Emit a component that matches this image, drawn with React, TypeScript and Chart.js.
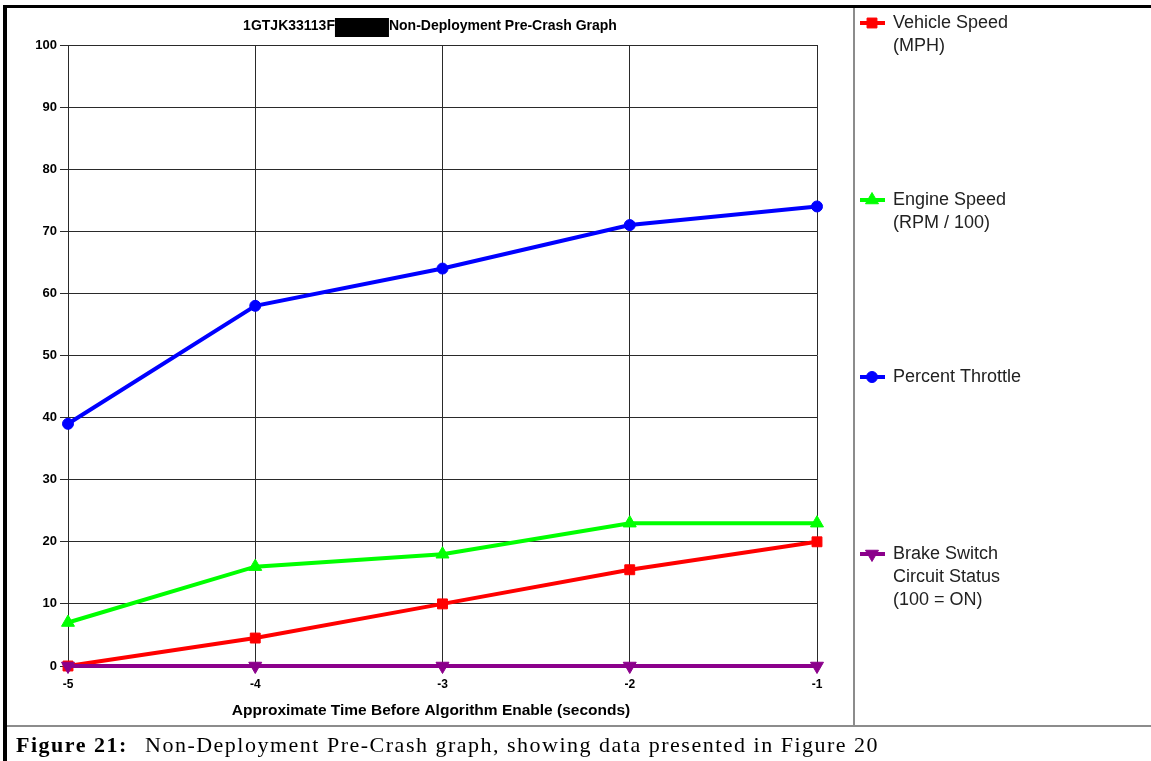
import React, { useEffect, useRef } from "react";
import { Chart, registerables } from "chart.js";

Chart.register(...registerables);

// ---- data ----
const timeValues = [-5, -4, -3, -2, -1];
const vehicleSpeed = [0, 4.5, 10, 15.5, 20];
const engineSpeed = [7, 16, 18, 23, 23];
const percentThrottle = [39, 58, 64, 71, 74];
const brakeStatus = [0, 0, 0, 0, 0];

const seriesNames = ["Vehicle Speed", "Engine Speed", "Percent Throttle", "Brake Switch"];
const legendLines = [
  ["Vehicle Speed", "(MPH)"],
  ["Engine Speed", "(RPM / 100)"],
  ["Percent Throttle"],
  ["Brake Switch", "Circuit Status", "(100 = ON)"],
];
const seriesColors = ["#ff0000", "#00ff00", "#0000ff", "#8b008b"];
const titleStart = "1GTJK33113F";
const titleEnd = "Non-Deployment Pre-Crash Graph";
const xAxisTitle = "Approximate Time Before Algorithm Enable (seconds)";
const captionBold = "Figure 21:";
const captionText = "Non-Deployment Pre-Crash graph, showing data presented in Figure 20";

const SANS = '"Liberation Sans", Arial, sans-serif';
const SERIF = '"Liberation Serif", "Times New Roman", serif';

type Marker = { style: string; radius: number; rotation: number };
const markers: Marker[] = [
  { style: "rect", radius: 7, rotation: 0 },
  { style: "triangle", radius: 7.5, rotation: 0 },
  { style: "circle", radius: 5.5, rotation: 0 },
  { style: "triangle", radius: 7.5, rotation: 180 },
];

function drawMarker(ctx: CanvasRenderingContext2D, m: Marker, x: number, y: number, color: string) {
  ctx.save();
  ctx.fillStyle = color;
  ctx.strokeStyle = color;
  ctx.lineWidth = 1;
  ctx.beginPath();
  if (m.style === "rect") {
    const s = Math.SQRT1_2 * m.radius;
    ctx.rect(x - s, y - s, 2 * s, 2 * s);
  } else if (m.style === "circle") {
    ctx.arc(x, y, m.radius, 0, Math.PI * 2);
  } else {
    let rad = (m.rotation * Math.PI) / 180;
    const r = m.radius;
    ctx.moveTo(x + Math.sin(rad) * r, y - Math.cos(rad) * r);
    rad += (2 * Math.PI) / 3;
    ctx.lineTo(x + Math.sin(rad) * r, y - Math.cos(rad) * r);
    rad += (2 * Math.PI) / 3;
    ctx.lineTo(x + Math.sin(rad) * r, y - Math.cos(rad) * r);
    ctx.closePath();
  }
  ctx.fill();
  ctx.stroke();
  ctx.restore();
}

const decorPlugin = {
  id: "decor",
  afterDraw(chart: any) {
    const ctx: CanvasRenderingContext2D = chart.ctx;
    ctx.save();
    // frame
    ctx.fillStyle = "#000";
    ctx.fillRect(3, 5, 4, 756);
    ctx.fillRect(3, 5, 1148, 3);
    ctx.fillStyle = "#8c8c8c";
    ctx.fillRect(853, 8, 2, 717);
    ctx.fillRect(7, 725, 1144, 2);

    // title with redaction
    ctx.fillStyle = "#000";
    ctx.font = `bold 14px ${SANS}`;
    ctx.textBaseline = "middle";
    ctx.textAlign = "left";
    const w1 = ctx.measureText(titleStart).width;
    const boxW = 54;
    const w2 = ctx.measureText(titleEnd).width;
    const tx = 430 - (w1 + boxW + w2) / 2;
    ctx.fillText(titleStart, tx, 26);
    ctx.fillRect(tx + w1, 18, boxW, 19);
    ctx.fillText(titleEnd, tx + w1 + boxW, 26);

    // x axis title
    ctx.font = `bold 15.5px ${SANS}`;
    ctx.textAlign = "center";
    ctx.fillText(xAxisTitle, 431, 711);

    // legend
    const rowY = [23, 200, 377, 554];
    ctx.font = `18px ${SANS}`;
    ctx.textAlign = "left";
    legendLines.forEach((lines, i) => {
      const y = rowY[i];
      ctx.strokeStyle = seriesColors[i];
      ctx.lineWidth = 4;
      ctx.beginPath();
      ctx.moveTo(860, y);
      ctx.lineTo(885, y);
      ctx.stroke();
      drawMarker(ctx, markers[i], 872, y, seriesColors[i]);
      ctx.fillStyle = "#222";
      lines.forEach((ln, j) => ctx.fillText(ln, 893, y + j * 23));
    });

    // caption
    ctx.fillStyle = "#000";
    ctx.textBaseline = "alphabetic";
    (ctx as any).letterSpacing = "1.5px";
    ctx.font = `bold 22px ${SERIF}`;
    ctx.fillText(captionBold, 16, 752);
    ctx.font = `22px ${SERIF}`;
    ctx.fillText(captionText, 145, 752);
    ctx.restore();
  },
};

export default function App() {
  const ref = useRef<HTMLCanvasElement>(null);
  useEffect(() => {
    if (!ref.current) return;
    const dataArrays = [vehicleSpeed, engineSpeed, percentThrottle, brakeStatus];
    const chart = new Chart(ref.current, {
      type: "line",
      data: {
        datasets: dataArrays.map((arr, i) => ({
          label: seriesNames[i],
          data: arr.map((v, k) => ({ x: timeValues[k], y: v })),
          borderColor: seriesColors[i],
          backgroundColor: seriesColors[i],
          borderWidth: 4,
          pointStyle: markers[i].style as any,
          pointRadius: markers[i].radius,
          pointRotation: markers[i].rotation,
          pointBorderWidth: 1,
          tension: 0,
          fill: false,
          clip: false as any,
          order: 3 - i,
        })),
      },
      options: {
        responsive: false,
        animation: false,
        events: [],
        layout: { padding: { left: 0, right: 334, top: 45, bottom: 36 } },
        plugins: { legend: { display: false }, tooltip: { enabled: false }, title: { display: false } },
        scales: {
          x: {
            type: "linear",
            min: -5,
            max: -1,
            afterFit: (s: any) => {
              s.height = 59;
            },
            ticks: {
              stepSize: 1,
              color: "#000",
              font: { family: SANS, weight: "bold", size: 12 },
              padding: 11,
            },
            grid: { color: "#2a2a2a", lineWidth: 1, drawTicks: false },
            border: { display: true, color: "#2a2a2a", width: 1 },
          },
          y: {
            min: 0,
            max: 100,
            afterFit: (s: any) => {
              s.width = 68;
            },
            ticks: {
              stepSize: 10,
              color: "#000",
              font: { family: SANS, weight: "bold", size: 13 },
              padding: 3,
            },
            grid: { color: "#2a2a2a", lineWidth: 1, tickLength: 8 },
            border: { display: true, color: "#2a2a2a", width: 1 },
          },
        },
      },
      plugins: [decorPlugin],
    });
    return () => chart.destroy();
  }, []);
  return (
    <div style={{ position: "absolute", left: 0, top: 0, width: 1151, height: 761, background: "#fff" }}>
      <canvas ref={ref} width={1151} height={761} style={{ display: "block", width: 1151, height: 761 }} />
    </div>
  );
}
